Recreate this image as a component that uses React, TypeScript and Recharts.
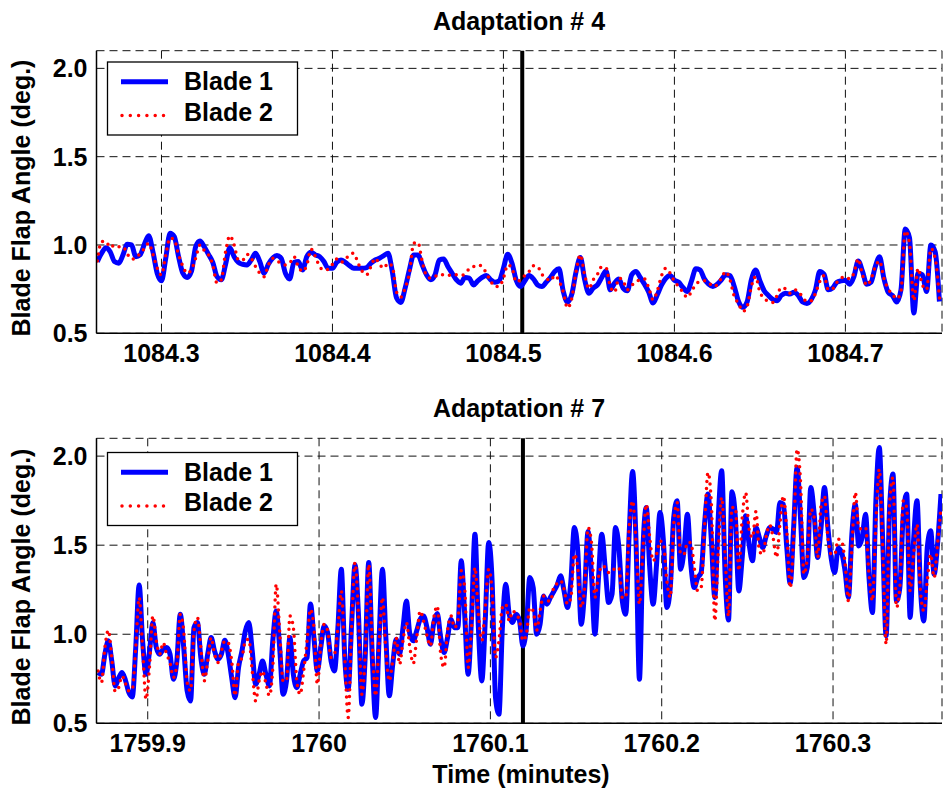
import { LineChart, Line, XAxis, YAxis, CartesianGrid, ReferenceLine } from 'recharts'

const FONT = '"Liberation Sans", Arial, Helvetica, sans-serif'

// sample clock of the logged blade data (minutes)
const topStart = 1084.2625
const topStep = 0.0025
const bottomStart = 1759.871
const bottomStep = 0.002

const topBlade1 = [
  0.906, 0.953, 0.985, 0.962, 0.906, 0.897, 0.944, 1.004, 1.0, 0.934,
  0.944, 1.004, 1.053, 0.962, 0.84, 0.797, 0.925, 1.066, 1.047, 0.934,
  0.84, 0.816, 0.85, 0.99, 1.023, 0.99, 0.947, 0.902, 0.821, 0.803,
  0.891, 0.985, 0.934, 0.902, 0.891, 0.887, 0.915, 0.953, 0.906, 0.84,
  0.891, 0.925, 0.94, 0.925, 0.84, 0.808, 0.902, 0.906, 0.859, 0.934,
  0.959, 0.944, 0.934, 0.906, 0.868, 0.868, 0.902, 0.915, 0.902, 0.883,
  0.868, 0.868, 0.868, 0.872, 0.897, 0.915, 0.925, 0.94, 0.953, 0.85,
  0.70, 0.675, 0.756, 0.859, 0.944, 0.944, 0.887, 0.831, 0.803, 0.831,
  0.915, 0.921, 0.878, 0.84, 0.803, 0.784, 0.816, 0.812, 0.774, 0.797,
  0.816, 0.827, 0.803, 0.789, 0.797, 0.868, 0.947, 0.897, 0.80, 0.765,
  0.797, 0.827, 0.808, 0.774, 0.765, 0.789, 0.816, 0.85, 0.865, 0.737,
  0.677, 0.722, 0.85, 0.929, 0.803, 0.727, 0.756, 0.774, 0.816, 0.853,
  0.746, 0.784, 0.808, 0.756, 0.741, 0.831, 0.85, 0.816, 0.778, 0.733,
  0.671, 0.718, 0.774, 0.812, 0.827, 0.8, 0.789, 0.759, 0.737, 0.797,
  0.865, 0.859, 0.808, 0.778, 0.765, 0.778, 0.803, 0.831, 0.827, 0.765,
  0.68, 0.647, 0.677, 0.803, 0.859, 0.797, 0.741, 0.714, 0.692, 0.684,
  0.714, 0.727, 0.722, 0.733, 0.714, 0.677, 0.669, 0.69, 0.746, 0.85,
  0.834, 0.746, 0.756, 0.789, 0.797, 0.8, 0.778, 0.821, 0.91, 0.85,
  0.778, 0.789, 0.878, 0.934, 0.812, 0.733, 0.714, 0.677, 0.746, 1.09,
  1.04, 0.615, 0.84, 0.831, 0.737, 1.0, 0.962, 0.68,
]

const topBlade2 = [
  0.91, 1.02, 1.02, 0.985, 1.0, 0.99, 0.99, 0.95, 0.92, 0.925,
  0.953, 0.98, 1.01, 0.947, 0.87, 0.83, 0.944, 1.04, 1.03, 0.944,
  0.88, 0.84, 0.86, 0.925, 1.0, 0.97, 0.944, 0.887, 0.784, 0.803,
  0.962, 1.053, 1.0, 0.915, 0.915, 0.947, 0.925, 0.878, 0.84, 0.82,
  0.887, 0.925, 0.91, 0.897, 0.887, 0.897, 0.934, 0.878, 0.85, 0.887,
  0.977, 0.934, 0.878, 0.859, 0.863, 0.891, 0.921, 0.902, 0.915, 0.947,
  0.953, 0.897, 0.85, 0.831, 0.878, 0.925, 0.891, 0.868, 0.897, 0.878,
  0.733, 0.705, 0.756, 0.84, 1.009, 1.015, 0.906, 0.827, 0.812, 0.821,
  0.834, 0.831, 0.827, 0.834, 0.831, 0.827, 0.836, 0.865, 0.878, 0.887,
  0.878, 0.84, 0.797, 0.765, 0.765, 0.812, 0.887, 0.868, 0.79, 0.803,
  0.827, 0.85, 0.883, 0.878, 0.834, 0.812, 0.797, 0.827, 0.797, 0.733,
  0.643, 0.699, 0.85, 0.944, 0.831, 0.752, 0.803, 0.834, 0.878, 0.872,
  0.765, 0.733, 0.812, 0.797, 0.746, 0.77, 0.793, 0.803, 0.808, 0.756,
  0.69, 0.741, 0.827, 0.868, 0.84, 0.793, 0.765, 0.733, 0.703, 0.737,
  0.778, 0.793, 0.797, 0.789, 0.765, 0.774, 0.812, 0.85, 0.803, 0.709,
  0.669, 0.624, 0.652, 0.765, 0.821, 0.733, 0.699, 0.68, 0.675, 0.714,
  0.759, 0.752, 0.727, 0.746, 0.737, 0.703, 0.68, 0.684, 0.727, 0.793,
  0.827, 0.746, 0.752, 0.789, 0.812, 0.821, 0.808, 0.84, 0.921, 0.831,
  0.772, 0.808, 0.878, 0.91, 0.812, 0.752, 0.722, 0.695, 0.737, 1.08,
  1.01, 0.684, 0.868, 0.774, 0.746, 0.98, 0.925, 0.699,
]

const bottomBlade1 = [
  0.785, 0.775, 0.888, 0.963, 0.85, 0.71, 0.753, 0.785, 0.742, 0.672,
  0.648, 0.925, 1.277, 0.963, 0.775, 0.9, 1.066, 0.925, 0.888, 0.916,
  0.925, 0.888, 0.747, 0.85, 1.112, 0.925, 0.682, 0.625, 1.037, 1.066,
  0.869, 0.775, 0.888, 0.981, 0.906, 0.86, 0.888, 0.966, 0.888, 0.757,
  0.644, 0.813, 0.906, 1.019, 1.066, 0.906, 0.719, 0.775, 0.85, 0.775,
  0.71, 0.963, 1.131, 0.925, 0.663, 0.738, 0.981, 0.775, 0.7, 0.775,
  0.85, 0.869, 1.17, 0.981, 0.794, 0.925, 1.047, 1.009, 0.85, 0.794,
  1.037, 1.365, 0.869, 0.691, 1.056, 1.39, 1.112, 0.607, 0.888, 1.403,
  0.888, 0.532, 0.963, 1.365, 0.981, 0.654, 0.831, 0.972, 0.888, 1.037,
  1.187, 1.0, 0.963, 1.019, 1.084, 1.103, 1.037, 0.944, 1.066, 1.116,
  0.981, 0.897, 0.981, 1.084, 1.037, 1.037, 1.412, 1.112, 0.775, 1.094,
  1.562, 1.037, 0.738, 1.075, 1.515, 1.3, 0.644, 0.551, 1.037, 1.281,
  1.112, 1.066, 1.112, 1.075, 0.934, 1.037, 1.318, 1.262, 1.0, 1.056,
  1.215, 1.169, 1.206, 1.24, 1.277, 1.328, 1.243, 1.15, 1.3, 1.599,
  1.468, 1.056, 1.243, 1.577, 1.337, 1.0, 1.3, 1.562, 1.375, 1.178,
  1.225, 1.599, 1.487, 1.187, 1.112, 1.562, 1.914, 1.524, 0.747, 1.468,
  1.712, 1.375, 1.169, 1.393, 1.684, 1.524, 1.15, 1.262, 1.655, 1.749,
  1.365, 1.468, 1.674, 1.393, 1.262, 1.318, 1.346, 1.618, 1.787, 1.524,
  1.206, 1.655, 1.918, 1.337, 1.08, 1.8, 1.655, 1.243, 1.431, 1.665,
  1.506, 1.412, 1.599, 1.543, 1.487, 1.552, 1.599, 1.59, 1.571, 1.74,
  1.73, 1.487, 1.285, 1.599, 1.936, 1.655, 1.318, 1.375, 1.824, 1.674,
  1.431, 1.599, 1.824, 1.599, 1.421, 1.346, 1.483, 1.459, 1.356, 1.206,
  1.562, 1.73, 1.496, 1.543, 1.674, 1.318, 1.122, 1.749, 2.049, 1.524,
  0.991, 1.712, 1.899, 1.187, 1.262, 1.674, 1.787, 1.094, 1.524, 1.749,
  1.262, 1.075, 1.487, 1.581, 1.337, 1.506, 1.787,
]

const bottomBlade2 = [
  0.794, 0.728, 0.925, 1.022, 0.869, 0.678, 0.7, 0.766, 0.723, 0.682,
  0.691, 0.925, 1.206, 0.925, 0.635, 0.813, 1.103, 0.963, 0.888, 0.953,
  0.888, 0.841, 0.757, 0.831, 1.112, 1.019, 0.728, 0.682, 1.019, 1.094,
  0.925, 0.738, 0.85, 0.981, 0.888, 0.841, 0.906, 0.963, 0.953, 0.85,
  0.654, 0.841, 0.869, 0.963, 0.972, 0.794, 0.625, 0.738, 0.794, 0.723,
  0.654, 0.813, 1.281, 1.019, 0.738, 0.738, 1.103, 1.037, 0.738, 0.663,
  0.794, 0.963, 1.14, 1.037, 0.719, 0.934, 1.056, 1.019, 0.869, 0.888,
  1.037, 1.243, 0.869, 0.532, 1.037, 1.403, 1.112, 0.663, 0.888, 1.393,
  0.963, 0.654, 0.944, 1.206, 0.906, 0.738, 0.85, 0.981, 0.831, 0.963,
  1.066, 0.925, 0.835, 0.981, 1.131, 1.075, 0.991, 0.934, 1.094, 1.159,
  0.888, 0.813, 1.019, 1.103, 1.037, 1.075, 1.356, 1.262, 0.813, 1.037,
  1.375, 1.112, 0.963, 1.15, 1.365, 1.243, 0.869, 0.963, 1.15, 1.169,
  1.075, 1.131, 1.112, 1.075, 0.963, 1.0, 1.15, 1.131, 1.022, 1.131,
  1.215, 1.191, 1.184, 1.262, 1.285, 1.3, 1.253, 1.169, 1.206, 1.449,
  1.375, 1.15, 1.262, 1.599, 1.515, 1.206, 1.318, 1.384, 1.375, 1.346,
  1.365, 1.365, 1.375, 1.206, 1.206, 1.599, 1.749, 1.524, 1.169, 1.468,
  1.73, 1.543, 1.412, 1.449, 1.524, 1.506, 1.3, 1.206, 1.618, 1.74,
  1.449, 1.449, 1.515, 1.515, 1.375, 1.243, 1.262, 1.599, 1.908, 1.73,
  1.075, 1.468, 1.768, 1.449, 1.1, 1.712, 1.712, 1.356, 1.655, 1.796,
  1.59, 1.543, 1.689, 1.468, 1.449, 1.552, 1.614, 1.543, 1.431, 1.618,
  1.777, 1.581, 1.262, 1.543, 2.039, 1.861, 1.337, 1.431, 1.702, 1.655,
  1.431, 1.721, 1.777, 1.543, 1.449, 1.449, 1.534, 1.524, 1.403, 1.187,
  1.487, 1.796, 1.599, 1.59, 1.599, 1.337, 1.187, 1.618, 1.927, 1.487,
  0.944, 1.73, 1.88, 1.15, 1.262, 1.749, 1.712, 1.243, 1.449, 1.618,
  1.243, 1.131, 1.3, 1.449, 1.318, 1.506, 1.712,
]

const angleTicks = [0.5, 1.0, 1.5, 2.0]
const topTimeTicks = [1084.3, 1084.4, 1084.5, 1084.6, 1084.7]
const bottomTimeTicks = [1759.9, 1760, 1760.1, 1760.2, 1760.3]
const topAdaptation = 1084.511
const bottomAdaptation = 1760.119

const tickStyle = { fontSize: 25, fontWeight: 700, fill: '#000', fontFamily: FONT }
const border = { stroke: '#000', strokeWidth: 1.5 }

const fmtTime = (v: number) => String(Number(v.toFixed(1)))

function buildRows(b1: number[], b2: number[], start: number, step: number) {
  return b1.map((v, i) => ({ t: start + i * step, blade1: v, blade2: b2[i] }))
}

interface PanelProps {
  rows: { t: number; blade1: number; blade2: number }[]
  domain: [number, number]
  ticks: number[]
  adaptation: number
  height: number
  top: number
  bottom: number
}

function Panel({ rows, domain, ticks, adaptation, height, top, bottom }: PanelProps) {
  return (
    <LineChart width={943} height={height} data={rows}
               margin={{ top, right: 1, bottom, left: 36.5 }}>
      <CartesianGrid stroke="#111" strokeDasharray="8 5" />
      <XAxis dataKey="t" type="number" domain={domain} ticks={ticks} allowDataOverflow
             interval={0} tickFormatter={fmtTime} tick={tickStyle} tickLine={false}
             tickSize={0} tickMargin={11} axisLine={border} height={40} />
      <XAxis xAxisId="top" orientation="top" type="number" domain={domain} allowDataOverflow
             height={0} tick={false} tickLine={false} axisLine={border} />
      <YAxis type="number" domain={[0.5, 2.1]} ticks={angleTicks} allowDataOverflow
             interval={0} tickFormatter={(v: number) => v.toFixed(1)} tick={tickStyle}
             tickLine={false} tickSize={0} tickMargin={9} axisLine={border} width={60} />
      <YAxis yAxisId="right" orientation="right" type="number" domain={[0.5, 2.1]}
             allowDataOverflow width={0} tick={false} tickLine={false} axisLine={border} />
      <ReferenceLine x={adaptation} stroke="#000" strokeWidth={4} />
      <Line type="monotone" dataKey="blade1" stroke="#0000ff" strokeWidth={5}
            dot={false} isAnimationActive={false} />
      <Line type="monotone" dataKey="blade2" stroke="#ff0000" strokeWidth={3.5}
            strokeDasharray="0 7" strokeLinecap="round" dot={false} isAnimationActive={false} />
    </LineChart>
  )
}

function LegendBox({ y }: { y: number }) {
  return (
    <g>
      <rect x={107.5} y={y} width={190} height={73} fill="#fff" stroke="#000" strokeWidth={1.3} />
      <line x1={121} x2={168} y1={y + 19.7} y2={y + 19.7} stroke="#0000ff" strokeWidth={5} />
      <line x1={122} x2={165} y1={y + 53.5} y2={y + 53.5} stroke="#ff0000" strokeWidth={3.5}
            strokeDasharray="0 8.3" strokeLinecap="round" />
      <text x={184} y={y + 28} fontSize={25} fontWeight={700}>Blade 1</text>
      <text x={184} y={y + 58.7} fontSize={25} fontWeight={700}>Blade 2</text>
    </g>
  )
}

export default function App() {
  const topRows = buildRows(topBlade1, topBlade2, topStart, topStep)
  const bottomRows = buildRows(bottomBlade1, bottomBlade2, bottomStart, bottomStep)

  return (
    <div style={{ position: 'absolute', left: 0, top: 0, width: 943, height: 792,
                  background: '#fff', fontFamily: FONT }}>
      <div style={{ position: 'absolute', left: 0, top: 0 }}>
        <Panel rows={topRows} domain={[1084.262, 1084.7565]} ticks={topTimeTicks}
               adaptation={topAdaptation} height={380} top={50.7} bottom={6.7} />
      </div>
      <div style={{ position: 'absolute', left: 0, top: 380 }}>
        <Panel rows={bottomRows} domain={[1759.8701, 1760.3636]} ticks={bottomTimeTicks}
               adaptation={bottomAdaptation} height={412} top={58.3} bottom={28.7} />
      </div>
      <svg width={943} height={792}
           style={{ position: 'absolute', left: 0, top: 0, pointerEvents: 'none' }}
           fontFamily={FONT} fill="#000">
        <text x={519} y={29.5} fontSize={25} fontWeight={700} textAnchor="middle">Adaptation # 4</text>
        <text x={519} y={417.3} fontSize={25} fontWeight={700} textAnchor="middle">Adaptation # 7</text>
        <text transform="translate(29.5,198) rotate(-90)" fontSize={25} fontWeight={700}
              textAnchor="middle">Blade Flap Angle (deg.)</text>
        <text transform="translate(29.5,587) rotate(-90)" fontSize={25} fontWeight={700}
              textAnchor="middle">Blade Flap Angle (deg.)</text>
        <text x={521} y={783} fontSize={25} fontWeight={700} textAnchor="middle">Time (minutes)</text>
        <LegendBox y={62} />
        <LegendBox y={452.5} />
      </svg>
    </div>
  )
}
